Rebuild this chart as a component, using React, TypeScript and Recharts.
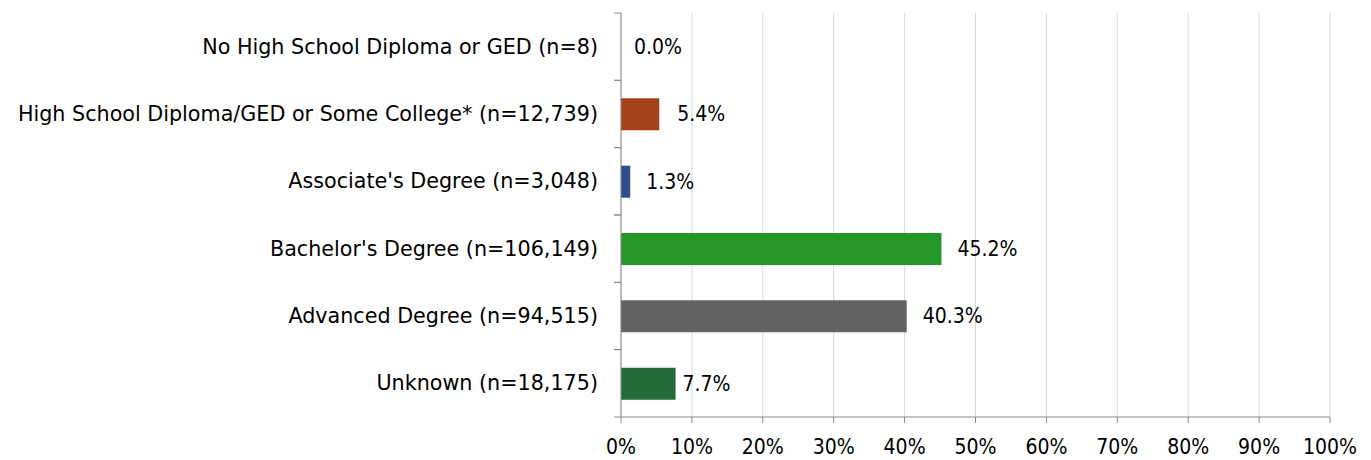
import { Bar, BarChart, CartesianGrid, Cell, LabelList, XAxis, YAxis } from "recharts";

const categories = [
  "No High School Diploma or GED (n=8)",
  "High School Diploma/GED or Some College* (n=12,739)",
  "Associate's Degree (n=3,048)",
  "Bachelor's Degree (n=106,149)",
  "Advanced Degree (n=94,515)",
  "Unknown (n=18,175)",
];
const shares = [0.0, 5.4, 1.3, 45.2, 40.3, 7.7];
const barColors = ["#a3421a", "#a3421a", "#2f4c8c", "#24962a", "#636363", "#246b3a"];
const xTicks = [0, 10, 20, 30, 40, 50, 60, 70, 80, 90, 100];

// gap between bar end and its value label (the source nudged some by hand)
const labelGaps = [13, 18, 16, 16, 16, 7];

const LABEL_FONT = "'DejaVu Sans', Verdana, sans-serif";
const NUM_FONT = "'DejaVu Sans Condensed', 'Noto Sans', sans-serif";
const AXIS = "#898989";

const rows = categories.map((name, i) => ({
  name,
  value: shares[i],
  text: `${shares[i].toFixed(1)}%`,
}));

function CategoryTick(props: any) {
  const { x, y, payload } = props;
  const half = payload?.offset || 404 / 12;
  return (
    <g>
      <line x1={x - 7} x2={x} y1={y - half} y2={y - half} stroke={AXIS} />
      <line x1={x - 7} x2={x} y1={y + half} y2={y + half} stroke={AXIS} />
      <text x={x - 23} y={y} textAnchor="end" dominantBaseline="central" fontFamily={LABEL_FONT} fontSize={20.7} fill="#000">
        {payload.value}
      </text>
    </g>
  );
}

function ValueLabel(props: any) {
  const { x, y, width, height, value, index } = props;
  const gap = labelGaps[index] ?? 15;
  const w = Number(width) < 0.5 ? 0 : Number(width);
  return (
    <text
      x={Number(x) + w + gap}
      y={Number(y) + Number(height) / 2}
      dominantBaseline="central"
      fontFamily={NUM_FONT}
      fontSize={21}
      fill="#000"
    >
      {value}
    </text>
  );
}

export default function App() {
  return (
    <div>
      <style>{"body{margin:0;background:#fff}"}</style>
      <BarChart
        width={1371}
        height={460}
        data={rows}
        layout="vertical"
        margin={{ top: 13, right: 41, bottom: 0, left: 0 }}
      >
        <CartesianGrid horizontal={false} stroke="#d9d9d9" />
        <XAxis
          type="number"
          domain={[0, 100]}
          ticks={xTicks}
          tickFormatter={(v) => `${v}%`}
          interval={0}
          height={43}
          stroke={AXIS}
          tickSize={6}
          tickMargin={16}
          tick={{ fontFamily: NUM_FONT, fontSize: 21, fill: "#000" }}
        />
        <YAxis
          type="category"
          dataKey="name"
          width={621}
          stroke={AXIS}
          tickLine={false}
          tickSize={0}
          tickMargin={0}
          interval={0}
          tick={<CategoryTick />}
        />
        <Bar dataKey="value" barSize={32} minPointSize={0.01} isAnimationActive={false}>
          {rows.map((r, i) => (
            <Cell key={r.name} fill={barColors[i]} />
          ))}
          <LabelList dataKey="text" content={<ValueLabel />} />
        </Bar>
      </BarChart>
    </div>
  );
}
